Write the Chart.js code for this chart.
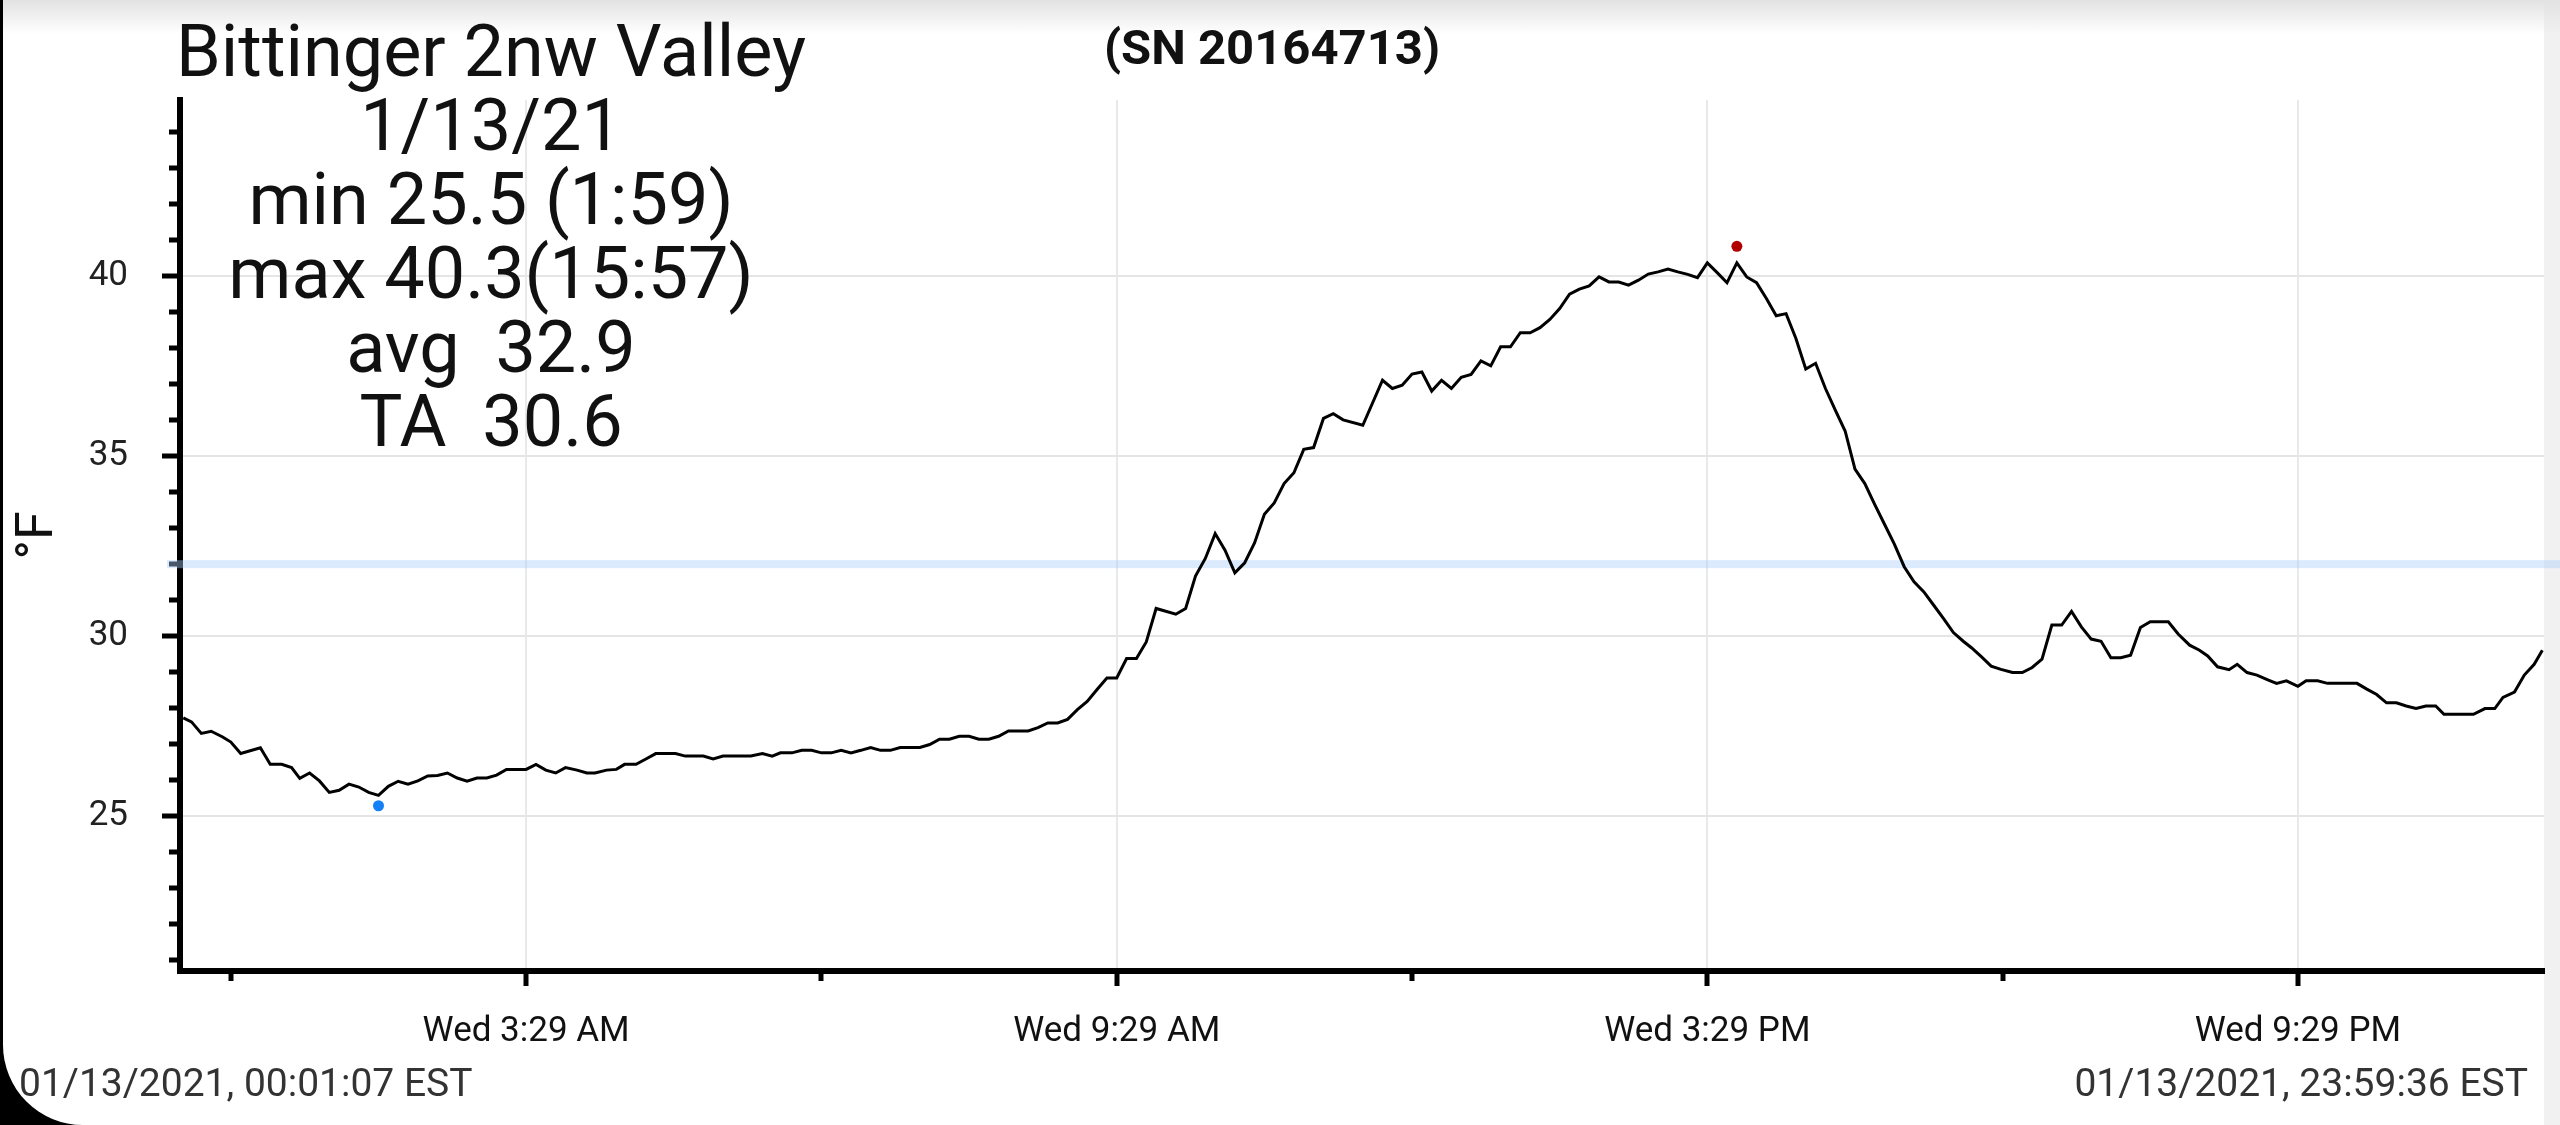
<!DOCTYPE html>
<html>
<head>
<meta charset="utf-8">
<title>Bittinger 2nw Valley</title>
<script src="https://cdn.jsdelivr.net/npm/chart.js@4.4.1/dist/chart.umd.min.js"></script>
<style>
  html, body { margin: 0; padding: 0; width: 2560px; height: 1125px; overflow: hidden; background: #000; font-family: Roboto, sans-serif; }
  #page { position: absolute; left: 3px; top: 0; width: 2557px; height: 1125px; background: #fff; border-bottom-left-radius: 80px; }
  #strip { position: absolute; left: 2544px; top: 0; width: 16px; height: 1125px; background: #f1f1f1; }
  #fade { position: absolute; left: 3px; top: 0; width: 2557px; height: 34px; background: linear-gradient(#e2e2e2, rgba(255,255,255,0)); }
  canvas { position: absolute; left: 0; top: 0; }
  #stats { position: absolute; left: 141px; top: 15px; width: 700px; text-align: center; font-size: 72px; line-height: 74px; color: #111; white-space: pre; }
  .stamp { position: absolute; top: 1064px; font-size: 39px; line-height: 39px; color: #333; white-space: pre; }
</style>
</head>
<body>
<div id="page"></div>
<div id="strip"></div>
<div id="fade"></div>
<canvas id="tempChart" width="2560" height="1125"></canvas>
<div id="stats"></div>
<div class="stamp" id="stampStart" style="left:19px;"></div>
<div class="stamp" id="stampEnd" style="right:32px;"></div>
<script>
// minutes after midnight, 01/13/2021
const times = [
  0, 5, 11, 17, 24, 29, 35, 47, 53, 60, 66, 71, 77, 83, 89, 95, 101, 107, 113, 119,
  125, 131, 137, 143, 149, 155, 161, 167, 173, 179, 185, 191, 197, 209, 215, 221, 227, 233, 240, 246,
  251, 258, 264, 269, 276, 282, 288, 300, 306, 317, 323, 329, 346, 353, 359, 364, 371, 377, 383, 389,
  395, 401, 407, 413, 419, 425, 431, 437, 449, 455, 461, 467, 473, 479, 485, 491, 497, 503, 515, 521,
  527, 533, 539, 545, 551, 557, 563, 569, 575, 581, 587, 593, 605, 611, 617, 623, 629, 635, 641, 647,
  653, 659, 665, 671, 677, 683, 689, 695, 701, 707, 719, 731, 737, 743, 749, 755, 761, 767, 773, 779,
  785, 791, 797, 803, 809, 815, 821, 827, 833, 839, 845, 851, 857, 863, 869, 875, 881, 887, 893, 899,
  905, 911, 917, 923, 929, 935, 941, 947, 953, 959, 965, 971, 977, 983, 989, 995, 1001, 1007, 1013, 1019,
  1025, 1031, 1037, 1043, 1049, 1055, 1061, 1067, 1073, 1079, 1085, 1090, 1096, 1102, 1108, 1115, 1121, 1127, 1133, 1139,
  1145, 1151, 1157, 1163, 1169, 1175, 1181, 1187, 1193, 1199, 1210, 1216, 1223, 1229, 1234, 1240, 1247, 1252, 1258, 1264,
  1271, 1276, 1282, 1289, 1294, 1301, 1307, 1325, 1331, 1337, 1343, 1349, 1355, 1361, 1367, 1373, 1378, 1396, 1403, 1409,
  1414, 1421, 1427, 1433, 1438
];
const temps = [
  27.73, 27.62, 27.30, 27.36, 27.20, 27.06, 26.74, 26.90, 26.44, 26.44, 26.35, 26.05, 26.20, 25.98, 25.66, 25.72, 25.89, 25.81, 25.66, 25.58,
  25.83, 25.97, 25.89, 25.98, 26.12, 26.13, 26.20, 26.06, 25.97, 26.06, 26.06, 26.14, 26.30, 26.30, 26.44, 26.28, 26.20, 26.35, 26.28, 26.20,
  26.20, 26.28, 26.30, 26.44, 26.44, 26.59, 26.74, 26.74, 26.67, 26.67, 26.59, 26.67, 26.67, 26.74, 26.67, 26.76, 26.76, 26.83, 26.83, 26.76,
  26.76, 26.83, 26.76, 26.83, 26.91, 26.83, 26.83, 26.91, 26.91, 26.99, 27.14, 27.14, 27.22, 27.22, 27.14, 27.14, 27.22, 27.37, 27.37, 27.46,
  27.59, 27.59, 27.69, 27.96, 28.19, 28.52, 28.84, 28.84, 29.38, 29.38, 29.84, 30.77, 30.61, 30.77, 31.67, 32.16, 32.85, 32.39, 31.76, 32.04,
  32.59, 33.39, 33.70, 34.24, 34.54, 35.19, 35.24, 36.05, 36.18, 36.01, 35.86, 37.11, 36.88, 36.97, 37.28, 37.34, 36.81, 37.11, 36.88, 37.19,
  37.27, 37.65, 37.51, 38.04, 38.04, 38.43, 38.43, 38.57, 38.80, 39.10, 39.50, 39.64, 39.73, 39.98, 39.84, 39.84, 39.75, 39.89, 40.06, 40.12,
  40.20, 40.12, 40.05, 39.96, 40.37, 40.10, 39.82, 40.37, 39.98, 39.82, 39.38, 38.90, 38.96, 38.27, 37.42, 37.58, 36.88, 36.28, 35.70, 34.64,
  34.24, 33.66, 33.11, 32.56, 31.93, 31.51, 31.23, 30.86, 30.49, 30.10, 29.86, 29.68, 29.43, 29.17, 29.08, 28.99, 28.99, 29.13, 29.36, 30.31,
  30.31, 30.69, 30.26, 29.92, 29.86, 29.40, 29.40, 29.47, 30.24, 30.40, 30.40, 30.06, 29.75, 29.61, 29.45, 29.15, 29.07, 29.22, 28.99, 28.92,
  28.78, 28.69, 28.76, 28.61, 28.76, 28.76, 28.69, 28.69, 28.53, 28.38, 28.15, 28.15, 28.06, 27.99, 28.06, 28.06, 27.83, 27.83, 27.99, 27.99,
  28.30, 28.45, 28.92, 29.22, 29.61
];

// min / max markers
const markTimes = [119, 947];
const markTemps = [25.29, 40.83];
const markColors = ["#1580f5", "#b00000"];

const freezeTemp = 32;

const xTicks = [29, 209, 389, 569, 749, 929, 1109, 1289];
const xTickLabels = ["", "Wed 3:29 AM", "", "Wed 9:29 AM", "", "Wed 3:29 PM", "", "Wed 9:29 PM"];
const yTicks = [21, 22, 23, 24, 25, 26, 27, 28, 29, 30, 31, 32, 33, 34, 35, 36, 37, 38, 39, 40, 41, 42, 43, 44];

const statLines = [
  "Bittinger 2nw Valley",
  "1/13/21",
  "min 25.5 (1:59)",
  "max 40.3(15:57)",
  "avg  32.9",
  "TA  30.6"
];
const serialText = "(SN 20164713)";
const startStamp = "01/13/2021, 00:01:07 EST";
const endStamp = "01/13/2021, 23:59:36 EST";

document.getElementById("stats").textContent = statLines.join("\n");
document.getElementById("stampStart").textContent = startStamp;
document.getElementById("stampEnd").textContent = endStamp;

const freezeBand = {
  id: "freezeBand",
  beforeDatasetsDraw(chart) {
    const { ctx, chartArea, scales } = chart;
    const y = scales.y.getPixelForValue(freezeTemp);
    ctx.save();
    ctx.fillStyle = "rgba(170, 205, 250, 0.42)";
    ctx.fillRect(chartArea.left - 13, y - 4, chart.width - chartArea.left + 13, 8);
    ctx.restore();
  },
};

Chart.defaults.font.family = "Roboto";

const isMajorX = (ctx) => ctx.index !== undefined && xTickLabels[ctx.index] !== "";
const isMajorY = (ctx) => ctx.tick && ctx.tick.value % 5 === 0;

new Chart(document.getElementById("tempChart").getContext("2d"), {
  type: "line",
  data: {
    datasets: [
      {
        label: "Temperature",
        data: times.map((t, i) => ({ x: t, y: temps[i] })),
        borderColor: "#000",
        borderWidth: 3,
        pointRadius: 0,
        tension: 0,
        fill: false,
      },
      {
        label: "Min/Max",
        data: markTimes.map((t, i) => ({ x: t, y: markTemps[i] })),
        showLine: false,
        pointRadius: 5.5,
        pointBorderWidth: 0,
        pointBackgroundColor: markColors,
      },
    ],
  },
  options: {
    responsive: false,
    animation: false,
    devicePixelRatio: 1,
    layout: { padding: { left: 0, right: 16, top: 0, bottom: 0 } },
    scales: {
      x: {
        type: "linear",
        min: -2,
        max: 1439,
        afterBuildTicks: (scale) => { scale.ticks = xTicks.map((v) => ({ value: v })); },
        afterFit: (scale) => { scale.height = 154; },
        ticks: {
          autoSkip: false,
          maxRotation: 0,
          padding: 25,
          color: "#111",
          font: { size: 35 },
          callback: (value, index) => xTickLabels[index],
        },
        grid: {
          color: (ctx) => (isMajorX(ctx) ? "#e7e9ed" : "rgba(0,0,0,0)"),
          lineWidth: 2,
          tickLength: 15,
          tickWidth: 5,
          tickColor: "#000",
          tickBorderDash: (ctx) => (isMajorX(ctx) ? [] : [7, 100]),
        },
        border: { display: true, color: "#000", width: 6 },
      },
      y: {
        min: 20.7,
        max: 44.9,
        afterBuildTicks: (scale) => { scale.ticks = yTicks.map((v) => ({ value: v })); },
        afterFit: (scale) => { scale.width = 180; },
        ticks: {
          autoSkip: false,
          padding: 34,
          color: "#222",
          font: { size: 35 },
          callback: (value) => (value % 5 === 0 ? String(value) : ""),
        },
        grid: {
          color: (ctx) => (isMajorY(ctx) ? "#e5e5e5" : "rgba(0,0,0,0)"),
          lineWidth: 2,
          tickLength: 18,
          tickWidth: 5,
          tickColor: "#000",
          tickBorderDash: (ctx) => (isMajorY(ctx) ? [] : [0, 7, 8, 100]),
        },
        border: { display: true, color: "#000", width: 6 },
        title: {
          display: true,
          text: "°F",
          color: "#111",
          font: { size: 52 },
          padding: { top: 8, bottom: 0 },
        },
      },
    },
    plugins: {
      legend: { display: false },
      tooltip: { enabled: false },
      title: {
        display: true,
        text: serialText,
        color: "#111",
        font: { size: 49, weight: "bold" },
        padding: { top: 22, bottom: 19 },
      },
    },
  },
  plugins: [freezeBand],
});
</script>
</body>
</html>
